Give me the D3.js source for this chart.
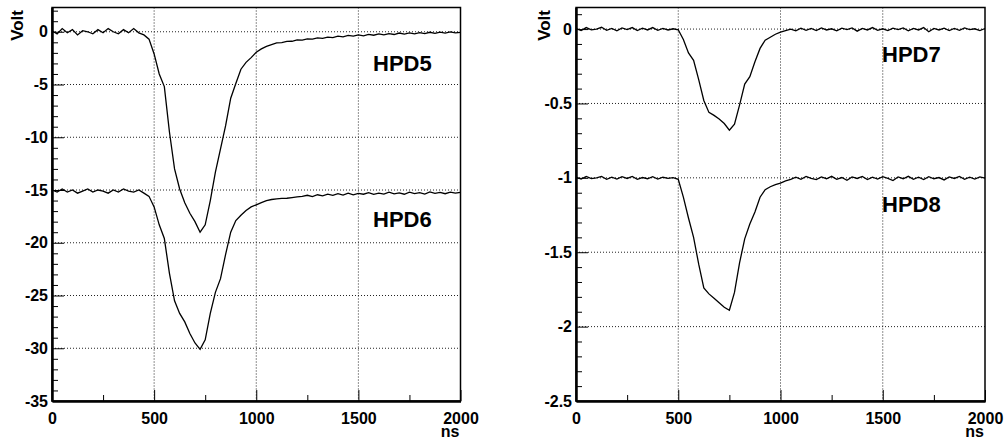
<!DOCTYPE html>
<html>
<head>
<meta charset="utf-8">
<script src="https://cdn.jsdelivr.net/npm/d3@7"></script>
<style>
  body { margin: 0; background: #fff; }
  svg { display: block; font-family: "Liberation Sans", Arial, sans-serif; font-weight: bold; }
</style>
</head>
<body>
<svg id="chart" width="1008" height="439"></svg>
<script>
// sample times (ns), one value every 25 ns
const times = d3.range(0, 2001, 25);

// left panel traces (Volt)
const hpd5 = [
  0.1, -0.2, 0.3, -0.1, 0.2, -0.3, 0.1, 0.0, -0.2, 0.2, -0.1, 0.3, 0.0, -0.2, 0.2, -0.1, 0.3, -0.1,
  -0.3, -0.7, -2.1, -4.0, -5.2, -9.5, -13.0, -14.9, -16.2, -17.2, -18.0, -19.0, -18.3, -16.0, -13.3,
  -11.1, -8.9, -6.3, -4.9, -3.55, -2.9, -2.45, -1.95,
  -1.62, -1.38, -1.22, -1.05, -1.02, -0.92, -0.9, -0.78, -0.8, -0.68, -0.7, -0.58, -0.62, -0.5, -0.55,
  -0.42, -0.48, -0.35, -0.42, -0.3, -0.38, -0.25, -0.33, -0.2, -0.3, -0.18, -0.26, -0.12, -0.22, -0.1,
  -0.2, -0.08, -0.18, -0.05, -0.15, -0.03, -0.12, -0.02, -0.1, -0.05
];
const hpd6 = [
  -15.0, -15.2, -14.9, -15.2, -15.0, -15.3, -15.1, -14.9, -15.2, -15.0, -15.1, -15.3, -15.0, -15.2, -14.9, -15.1, -15.2, -15.0,
  -15.3, -15.6, -16.6, -18.3, -19.6, -22.9, -25.5, -26.7, -27.5, -28.6, -29.5, -30.1, -29.2, -26.7, -24.7,
  -23.4, -21.1, -19.0, -17.9, -17.4, -16.95, -16.6, -16.4, -16.2, -16.0, -15.9, -15.85, -15.8, -15.78, -15.72, -15.65,
  -15.6, -15.5, -15.62, -15.45, -15.55, -15.4, -15.5, -15.35, -15.48, -15.3, -15.45, -15.32, -15.4, -15.25, -15.42, -15.3,
  -15.38, -15.2, -15.36, -15.28, -15.4, -15.2, -15.34, -15.25, -15.38, -15.18, -15.32, -15.22, -15.35, -15.2, -15.3, -15.22
];

// right panel traces (Volt)
const hpd7 = [
  0.005, -0.01, 0.01, -0.005, 0.0, 0.012, -0.008, 0.004, -0.012, 0.008, -0.004, 0.01, -0.01, 0.006, -0.006, 0.01, -0.008, 0.004, -0.006, 0.002,
  -0.005, -0.07, -0.16, -0.21, -0.34, -0.48, -0.56, -0.58, -0.605, -0.635, -0.68, -0.64, -0.51, -0.37, -0.32, -0.22, -0.13, -0.075, -0.055, -0.035, -0.02,
  -0.01, 0.0, -0.012, 0.006, -0.008, 0.004, -0.01, 0.008, -0.006, 0.002,
  -0.012, 0.006, -0.004, 0.008, -0.014, 0.004, -0.006, 0.01, -0.008, 0.002,
  -0.01, 0.006, -0.004, 0.008, -0.012, 0.004, -0.006, 0.01, -0.018, 0.004,
  -0.006, 0.006, -0.01, 0.004, -0.008, 0.008, -0.004, 0.002, -0.01, 0.004
];
const hpd8 = [
  -0.995, -1.008, -0.99, -1.005, -1.0, -0.99, -1.01, -0.996, -1.008, -0.992, -1.004, -0.99, -1.01, -0.998, -1.006, -0.992, -1.008, -0.996, -1.004, -0.998,
  -1.01, -1.13, -1.27, -1.40, -1.58, -1.74, -1.78, -1.81, -1.84, -1.87, -1.89, -1.77, -1.57, -1.41, -1.31, -1.23, -1.13, -1.08, -1.06, -1.045, -1.035, -1.02, -1.01,
  -0.995, -1.01, -0.99, -1.004, -1.012, -0.994, -1.006, -0.99, -1.01, -0.998,
  -1.016, -0.994, -1.004, -0.99, -1.012, -0.996, -1.008, -0.992, -1.004, -1.018,
  -0.994, -1.006, -0.99, -1.01, -0.996, -1.012, -0.992, -1.006, -0.998, -1.014,
  -0.994, -1.004, -0.99, -1.01, -0.996, -1.008, -0.994, -1.002
];

// axis ticks
const xMajor = [0, 500, 1000, 1500, 2000];
const xMinor = [250, 750, 1250, 1750];
const leftMajor = [-35, -30, -25, -20, -15, -10, -5, 0];
const leftMinor = d3.range(-34, 3, 1).filter(v => v % 5 !== 0);
const rightMajor = [-2.5, -2, -1.5, -1, -0.5, 0];
const rightMinor = d3.range(-24, 2, 1).filter(v => v % 5 !== 0).map(v => v / 10);

const svg = d3.select('#chart');
const fmt = v => (Math.abs(v) < 1e-9 ? '0' : String(v));
const FONT = '"Liberation Sans", Arial, sans-serif';

const drawPanel = (p) => {
  const x = d3.scaleLinear().domain([0, 2000]).range([p.x0, p.x1]);
  const y = d3.scaleLinear().domain(p.yDomain).range([p.y1, p.y0]);
  const g = svg.append('g');

  // dotted grid at major ticks
  g.selectAll('.gx').data(xMajor.slice(1, -1)).join('line')
    .attr('x1', d => x(d)).attr('x2', d => x(d))
    .attr('y1', p.y0).attr('y2', p.y1)
    .attr('stroke', '#222').attr('stroke-width', 1).attr('stroke-dasharray', '1 2');
  g.selectAll('.gy').data(p.yMajor.slice(1)).join('line')
    .attr('y1', d => y(d)).attr('y2', d => y(d))
    .attr('x1', p.x0).attr('x2', p.x1)
    .attr('stroke', '#222').attr('stroke-width', 1).attr('stroke-dasharray', '1 2');

  // traces
  const line = d3.line().x((d, i) => x(times[i])).y(d => y(d));
  p.series.forEach(s => {
    g.append('path').datum(s).attr('d', line)
      .attr('fill', 'none').attr('stroke', '#000').attr('stroke-width', 1.3);
  });

  // frame
  g.append('rect').attr('x', p.x0).attr('y', p.y0)
    .attr('width', p.x1 - p.x0).attr('height', p.y1 - p.y0)
    .attr('fill', 'none').attr('stroke', '#000').attr('stroke-width', 1.5);

  // x axis
  g.append('g').attr('transform', `translate(0,${p.y1})`)
    .call(d3.axisBottom(x).tickValues(xMinor).tickSize(-6).tickSizeOuter(0).tickFormat(''));
  g.append('g').attr('transform', `translate(0,${p.y1})`)
    .call(d3.axisBottom(x).tickValues(xMajor).tickSize(-11).tickSizeOuter(0).tickPadding(12).tickFormat(fmt));
  // y axis
  g.append('g').attr('transform', `translate(${p.x0},0)`)
    .call(d3.axisLeft(y).tickValues(p.yMinor).tickSize(-6).tickSizeOuter(0).tickFormat(''));
  g.append('g').attr('transform', `translate(${p.x0},0)`)
    .call(d3.axisLeft(y).tickValues(p.yMajor).tickSize(-12).tickSizeOuter(0).tickPadding(4).tickFormat(fmt));

  g.selectAll('.domain').attr('stroke', '#000').attr('stroke-width', 2);
  g.selectAll('.tick line').attr('stroke', '#000').attr('stroke-width', 1);
  g.selectAll('.tick text').attr('fill', '#000')
    .attr('font-family', FONT).attr('font-size', 16).attr('font-weight', 'bold')
    .style('font-size', '16px').style('font-weight', 'bold');

  // axis titles
  g.append('text').attr('transform', `translate(${p.voltX},10) rotate(-90)`)
    .attr('text-anchor', 'end').attr('font-size', 17).attr('font-weight', 'bold').text('Volt');
  g.append('text').attr('x', p.x1 - 1).attr('y', 437)
    .attr('text-anchor', 'end').attr('font-size', 16).attr('font-weight', 'bold').text('ns');

  // trace labels
  p.labels.forEach(l => {
    g.append('text').attr('x', l.x).attr('y', l.y)
      .attr('font-size', 22).attr('font-weight', 'bold').text(l.text);
  });
};

drawPanel({
  x0: 52, x1: 460.5, y0: 7.5, y1: 401,
  yDomain: [-35, 2.3], yMajor: leftMajor, yMinor: leftMinor,
  series: [hpd5, hpd6], voltX: 23,
  labels: [{ text: 'HPD5', x: 373, y: 71 }, { text: 'HPD6', x: 373, y: 227 }]
});
drawPanel({
  x0: 576, x1: 985, y0: 7.5, y1: 401,
  yDomain: [-2.5, 0.145], yMajor: rightMajor, yMinor: rightMinor,
  series: [hpd7, hpd8], voltX: 550,
  labels: [{ text: 'HPD7', x: 882, y: 62 }, { text: 'HPD8', x: 882, y: 212 }]
});
</script>
</body>
</html>
